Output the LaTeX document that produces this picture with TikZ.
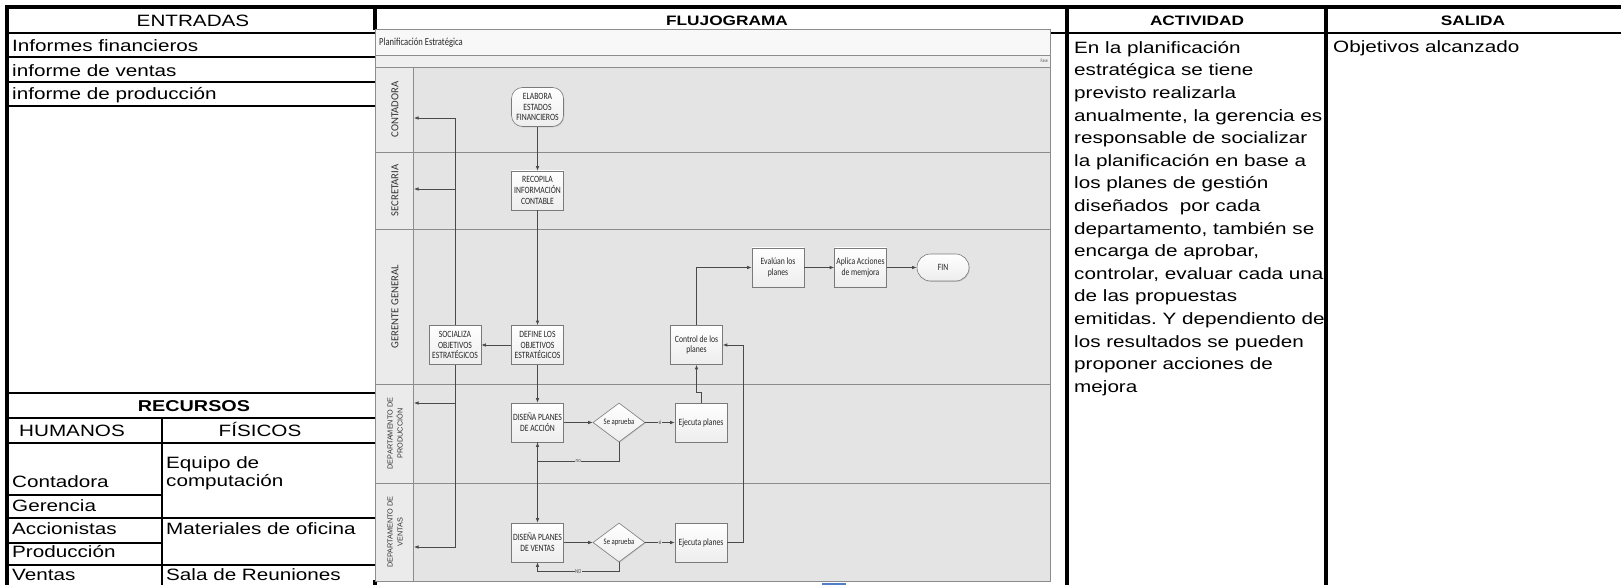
\documentclass[tikz,border=0pt]{standalone}
\usepackage{fontspec}
\setmainfont{Liberation Sans}[FakeStretch=1.26]
\newfontfamily\flowfont{Carlito}[FakeStretch=0.8]
\newfontfamily\lanefont{Carlito}
\newfontfamily\deptfont{Liberation Sans}
\usetikzlibrary{arrows.meta,shapes.geometric,shadows}
\frenchspacing

\definecolor{lanebg}{HTML}{E4E4E4}
\definecolor{labelbg}{HTML}{EBEBEB}
\definecolor{lanerule}{HTML}{8C8C8C}
\definecolor{titlebg}{HTML}{F8F8F8}
\definecolor{phasebg}{HTML}{EFEFEF}
\definecolor{wire}{HTML}{4A4A4A}
\definecolor{boxline}{HTML}{7A7A7A}
\definecolor{selblue}{HTML}{4F7FC9}

\begin{document}
\begin{tikzpicture}[x=1pt,y=-1pt,
  cell/.style={inner sep=0pt,text height=11.7pt,text depth=0pt,
    font=\fontsize{16.4}{22.6}\selectfont},
  headcell/.style={inner sep=0pt,text height=9.8pt,text depth=0pt,
    font=\fontsize{13.7}{16}\selectfont\bfseries},
  heavyrule/.style={line width=3.4pt},
  rule/.style={line width=2pt},
  proc/.style={draw=boxline,line width=0.6pt,top color=white,bottom color=black!7,
    minimum width=52pt,minimum height=39pt,inner sep=1pt,align=center,
    font=\flowfont\fontsize{9.6}{10.8}\selectfont,text=black!85,
    drop shadow={shadow xshift=0.8pt,shadow yshift=-0.8pt,opacity=0.3}},
  term/.style={proc,rounded corners=11pt},
  decis/.style={proc,shape=diamond,inner sep=0pt,
    font=\flowfont\fontsize{8.4}{9}\selectfont},
  flow/.style={draw=wire,line width=0.7pt,-{Latex[length=4.5pt,width=3.6pt]}},
  lbl/.style={fill=lanebg,inner sep=0.6pt,font=\flowfont\fontsize{6}{7}\selectfont,text=wire},
  lanelbl/.style={rotate=90,inner sep=0pt,font=\lanefont\fontsize{10.7}{11}\selectfont,text=black!80},
  deptlbl/.style={rotate=90,inner sep=0pt,align=center,
    font=\deptfont\fontsize{7.3}{10}\selectfont,text=black!80},
]
\useasboundingbox (0,0) rectangle (1621,585);
\fill[white] (0,0) rectangle (1621,585);

% ---------- table grid ----------
\draw[heavyrule] (5.3,7) -- (1621,7);
\draw[heavyrule] (7,5.3) -- (7,585);
\draw[line width=2.6pt] (7,33) -- (1621,33);
\draw[heavyrule] (375,7) -- (375,30);
\draw[heavyrule] (375,580) -- (375,585);
\draw[line width=3.8pt] (1067,7) -- (1067,585);
\draw[line width=3.8pt] (1326,7) -- (1326,585);

% inputs rows
\draw[rule] (7,57) -- (375,57);
\draw[rule] (7,82) -- (375,82);
\draw[rule] (7,106) -- (375,106);

% resources block
\draw[line width=2.4pt] (7,393) -- (375,393);
\draw[rule] (7,418) -- (375,418);
\draw[rule] (7,443) -- (375,443);
\draw[rule] (162,418) -- (162,585);
\draw[rule] (7,495) -- (162,495);
\draw[rule] (7,518) -- (375,518);
\draw[rule] (7,543) -- (162,543);
\draw[rule] (7,565) -- (375,565);

% ---------- table texts ----------
\node[cell] (hIn) at (193,21) {ENTRADAS};
\node[headcell] (hFlow) at (727,21) {FLUJOGRAMA};
\node[headcell] (hAct) at (1197,21) {ACTIVIDAD};
\node[headcell] (hOut) at (1473,21) {SALIDA};

\node[cell,anchor=west] (in1) at (12,46) {Informes financieros};
\node[cell,anchor=west] (in2) at (12,71) {informe de ventas};
\node[cell,anchor=west] (in3) at (12,94) {informe de producción};

\node[cell,text height=11.2pt,font=\fontsize{15.7}{18}\selectfont\bfseries] (hRes) at (194,406) {RECURSOS};
\node[cell] (hHum) at (72,430.5) {HUMANOS};
\node[cell] (hFis) at (260,430.5) {FÍSICOS};

\node[cell,anchor=west] (h1) at (12,481.5) {Contadora};
\node[cell,anchor=west] (h2) at (12,505.5) {Gerencia};
\node[cell,anchor=west] (h3) at (12,528.5) {Accionistas};
\node[cell,anchor=west] (h4) at (12,552) {Producción};
\node[cell,anchor=west] (h5) at (12,575) {Ventas};

\node[anchor=north west,inner sep=0pt,align=left,font=\fontsize{16.4}{18.5}\selectfont]
  (f1) at (166,456) {Equipo de\\computación};
\node[cell,anchor=west] (f2) at (166,528.5) {Materiales de oficina};
\node[cell,anchor=west] (f3) at (166,575) {Sala de Reuniones};

\node[anchor=north west,inner sep=0pt,align=left,font=\fontsize{16.4}{22.6}\selectfont]
  (actText) at (1074,41) {En la planificación\\
  estratégica se tiene\\
  previsto realizarla\\
  anualmente, la gerencia es\\
  responsable de socializar\\
  la planificación en base a\\
  los planes de gestión\\
  diseñados\ \ por cada\\
  departamento, también se\\
  encarga de aprobar,\\
  controlar, evaluar cada una\\
  de las propuestas\\
  emitidas. Y dependiento de\\
  los resultados se pueden\\
  proponer acciones de\\
  mejora};
\node[cell,anchor=west] (outText) at (1333,46.5) {Objetivos alcanzado};

% ---------- swimlane frame ----------
\fill[titlebg] (375.5,29) rectangle (1050,55);
\fill[phasebg] (375.5,55) rectangle (1050,67);
\fill[lanebg] (375.5,67) rectangle (1050,581);
\fill[labelbg] (375.5,67) rectangle (413,581);
\draw[lanerule,line width=0.8pt] (375.5,55) -- (1050,55);
\draw[lanerule,line width=0.8pt] (375.5,67) -- (1050,67);
\foreach \yy in {152,229,384,483}
  \draw[lanerule,line width=0.9pt] (375.5,\yy) -- (1050,\yy);
\draw[lanerule,line width=0.8pt] (413,67) -- (413,581);
\draw[lanerule,line width=0.9pt] (375.5,29) rectangle (1050,581);

\node[anchor=west,inner sep=0pt,font=\flowfont\fontsize{10.7}{12}\selectfont,text=black!85]
  (title) at (379,43) {Planificación Estratégica};
\node[anchor=east,inner sep=0pt,font=\flowfont\fontsize{5}{6}\selectfont,text=black!70]
  (phase) at (1048,61) {Fase};

\node[lanelbl] (lnC) at (395,109.5) {CONTADORA};
\node[lanelbl] (lnS) at (395,190.5) {SECRETARIA};
\node[lanelbl] (lnG) at (395,306.5) {GERENTE GENERAL};
\node[deptlbl] (lnP) at (395,433.5) {DEPARTAMENTO DE\\PRODUCCIÓN};
\node[deptlbl] (lnV) at (395,532) {DEPARTAMENTO DE\\VENTAS};

% ---------- process steps ----------
\node[term] (elab) at (537.5,107) {ELABORA\\ESTADOS\\FINANCIEROS};
\node[proc] (recop) at (537.5,190.5) {RECOPILA\\INFORMACIÓN\\CONTABLE};
\node[proc] (defin) at (537.5,345) {DEFINE LOS\\OBJETIVOS\\ESTRATÉGICOS};
\node[proc] (soc) at (455,345) {SOCIALIZA\\OBJETIVOS\\ESTRATÉGICOS};
\node[proc] (ctrl) at (696.5,345) {Control de los\\planes};
\node[proc] (eval) at (778,267.5) {Evalúan los\\planes};
\node[proc] (aplic) at (860.5,267.5) {Aplica Acciones\\de memjora};
\node[proc,minimum height=27pt,rounded corners=13.5pt] (fin) at (943,267.5) {FIN};
\node[proc] (acc) at (537.5,422.5) {DISEÑA PLANES\\DE ACCIÓN};
\node[decis] (d1) at (619,422.5) {Se aprueba};
\node[proc] (e1) at (701,422.5) {Ejecuta planes};
\node[proc] (vent) at (537.5,542.5) {DISEÑA PLANES\\DE VENTAS};
\node[decis] (d2) at (619,542.5) {Se aprueba};
\node[proc] (e2) at (701,542.5) {Ejecuta planes};

% lane entry points for the distribution of objectives
\coordinate (inC) at (414,118);
\coordinate (inS) at (414,189);
\coordinate (inP) at (414,403);
\coordinate (inV) at (414,547);

% ---------- connectors ----------
\draw[flow] (elab.south) -- (recop.north);
\draw[flow] (recop.south) -- (defin.north);
\draw[flow] (defin.west) -- (soc.east);
\draw[flow] (defin.south) -- (acc.north);
\draw[flow] (soc.north) |- (inC);
\draw[flow] (soc.north |- inS) -- (inS);
\draw[flow] (soc.south |- inP) -- (inP);
\draw[flow] (soc.south) |- (inV);

\draw[flow] (acc.east) -- (d1.west);
\draw[flow] (d1.east) -- node[lbl] {si} (e1.west);
\draw[flow] (d1.south) -- ++(0,19) -| node[lbl,pos=0.25] {no} (acc.south);
\draw[flow] (acc.south) -- (vent.north);

\draw[flow] (vent.east) -- (d2.west);
\draw[flow] (d2.east) -- node[lbl] {si} (e2.west);
\draw[flow] (d2.south) -- ++(0,9) -| node[lbl,pos=0.25] {NO} (vent.south);

\draw[flow] (e1.north) -- ++(0,-10) -| (ctrl.south);
\draw[flow] (e2.east) -- ++(16,0) |- (ctrl.east);
\draw[flow] (ctrl.north) |- (eval.west);
\draw[flow] (eval.east) -- (aplic.west);
\draw[flow] (aplic.east) -- (fin.west);

% selection marker under the frame
\fill[selblue] (822,582.5) rectangle (846,585);
\end{tikzpicture}
\end{document}
